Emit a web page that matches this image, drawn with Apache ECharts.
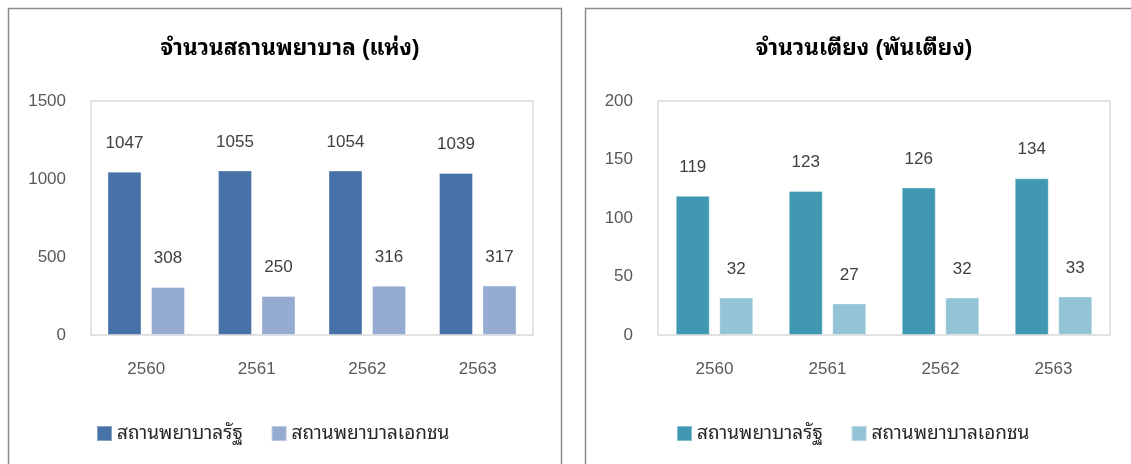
<!DOCTYPE html>
<html>
<head>
<meta charset="utf-8">
<script src="https://cdn.jsdelivr.net/npm/echarts@6/dist/echarts.min.js"></script>
<style>
  html, body { margin: 0; padding: 0; background: #fff; }
  #chart { width: 1131px; height: 464px; }
</style>
</head>
<body>
<div id="chart"></div>
<script>
const years = ['2560', '2561', '2562', '2563'];
const seriesNames = ['สถานพยาบาลรัฐ', 'สถานพยาบาลเอกชน'];

// จำนวนสถานพยาบาล (แห่ง)
const facilitiesPublic = [1047, 1055, 1054, 1039];
const facilitiesPrivate = [308, 250, 316, 317];

// จำนวนเตียง (พันเตียง)
const bedsPublic = [119, 123, 126, 134];
const bedsPrivate = [32, 27, 32, 33];

const titles = ['จำนวนสถานพยาบาล (แห่ง)', 'จำนวนเตียง (พันเตียง)'];

const FONT = '"Liberation Sans", Arial, "Noto Sans Thai Looped", "Noto Sans Thai", Tahoma, sans-serif';

const chart = echarts.init(document.getElementById('chart'), null, { renderer: 'canvas' });

function barSeries(name, data, idx, color) {
  return {
    name: name,
    type: 'bar',
    xAxisIndex: idx,
    yAxisIndex: idx,
    data: data,
    barWidth: 34,
    barGap: '28%',
    itemStyle: { color: color, borderColor: 'rgba(255,255,255,0.35)', borderWidth: 1 },
    label: {
      show: true,
      position: 'top',
      distance: 20,
      color: '#404040',
      fontSize: 17,
      fontFamily: FONT
    }
  };
}

const legendText = { fontSize: 19, color: '#262626', fontFamily: FONT };
const titleText = { fontSize: 22.5, fontWeight: 'bold', color: '#000', fontFamily: FONT };

const option = {
  backgroundColor: '#fff',
  animation: false,
  graphic: [
    {
      type: 'rect',
      shape: { x: 8.5, y: 8.5, width: 553, height: 480 },
      style: { fill: 'none', stroke: '#8c8c8c', lineWidth: 1.5 }
    },
    {
      type: 'rect',
      shape: { x: 585.5, y: 8.5, width: 560, height: 480 },
      style: { fill: 'none', stroke: '#8c8c8c', lineWidth: 1.5 }
    }
  ],
  title: [
    { text: titles[0], left: 285, top: 32, textAlign: 'center', textStyle: titleText },
    { text: titles[1], left: 859, top: 32, textAlign: 'center', textStyle: titleText }
  ],
  legend: [
    {
      data: [
        { name: seriesNames[0], itemStyle: { color: '#4672a8' } },
        { name: seriesNames[1], itemStyle: { color: '#95abd2' } }
      ],
      left: 91, top: 419,
      itemWidth: 15, itemHeight: 15, itemGap: 28,
      icon: 'rect',
      textStyle: legendText,
      selectedMode: false
    },
    {
      data: [
        { name: seriesNames[0] + ' ', itemStyle: { color: '#4199b1' } },
        { name: seriesNames[1] + ' ', itemStyle: { color: '#93c4d6' } }
      ],
      formatter: (n) => n.trim(),
      left: 671, top: 419,
      itemWidth: 15, itemHeight: 15, itemGap: 28,
      icon: 'rect',
      textStyle: legendText,
      selectedMode: false
    }
  ],
  grid: [
    { left: 91, top: 101, width: 442, height: 234, show: true, borderColor: '#d9d9d9', borderWidth: 1.5, backgroundColor: 'transparent' },
    { left: 658, top: 101, width: 452, height: 234, show: true, borderColor: '#d9d9d9', borderWidth: 1.5, backgroundColor: 'transparent' }
  ],
  xAxis: [0, 1].map(i => ({
    type: 'category',
    gridIndex: i,
    data: years,
    axisLine: { show: false },
    axisTick: { show: false },
    axisLabel: { color: '#595959', fontSize: 17, margin: 26, fontFamily: FONT }
  })),
  yAxis: [
    {
      type: 'value', gridIndex: 0, min: 0, max: 1500, interval: 500,
      axisLine: { show: false }, axisTick: { show: false }, splitLine: { show: false },
      axisLabel: { color: '#595959', fontSize: 17, margin: 25, fontFamily: FONT, formatter: (v) => String(v) }
    },
    {
      type: 'value', gridIndex: 1, min: 0, max: 200, interval: 50,
      axisLine: { show: false }, axisTick: { show: false }, splitLine: { show: false },
      axisLabel: { color: '#595959', fontSize: 17, margin: 25, fontFamily: FONT, formatter: (v) => String(v) }
    }
  ],
  series: [
    barSeries(seriesNames[0], facilitiesPublic, 0, '#4672a8'),
    barSeries(seriesNames[1], facilitiesPrivate, 0, '#95abd2'),
    barSeries(seriesNames[0] + ' ', bedsPublic, 1, '#4199b1'),
    barSeries(seriesNames[1] + ' ', bedsPrivate, 1, '#93c4d6')
  ]
};

chart.setOption(option);
</script>
</body>
</html>
